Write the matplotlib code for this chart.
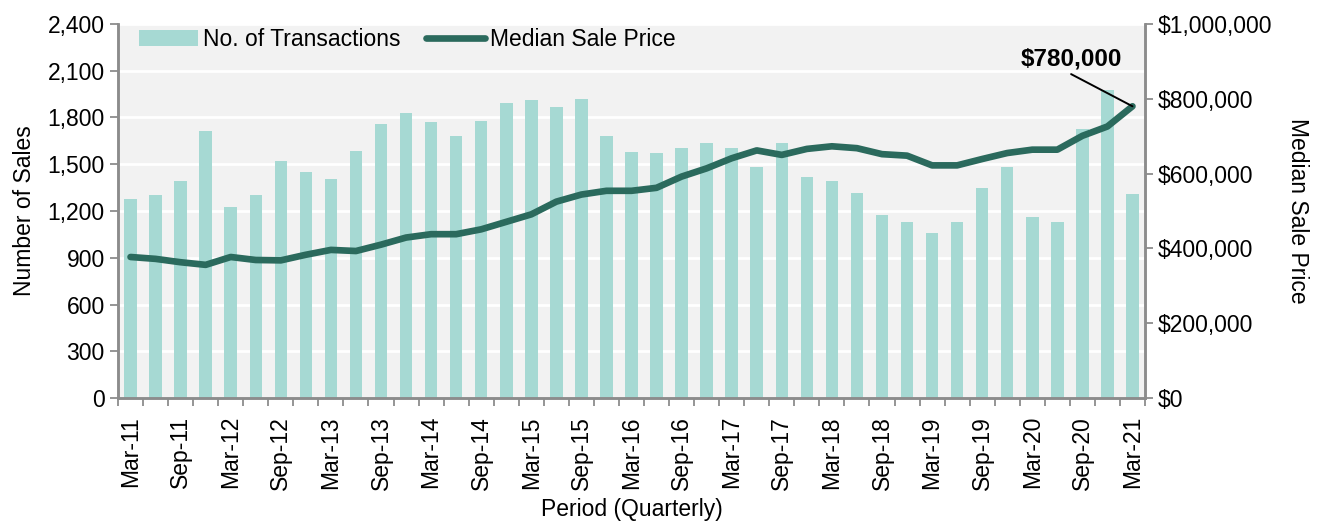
import numpy as np
import matplotlib.pyplot as plt
from matplotlib.ticker import FuncFormatter

plt.rcParams['font.family'] = ['Liberation Sans', 'DejaVu Sans']

# quarters Mar-11 .. Mar-21
quarters = []
for yy in range(11, 22):
    for m in ['Mar', 'Jun', 'Sep', 'Dec']:
        quarters.append(m + '-' + str(yy))
quarters = quarters[:41]

transactions = [1275, 1301, 1391, 1712, 1226, 1301, 1524, 1449, 1408, 1588,
                1761, 1828, 1770, 1680, 1779, 1894, 1911, 1869, 1918, 1680,
                1581, 1573, 1607, 1639, 1607, 1483, 1639, 1416, 1391, 1318,
                1176, 1129, 1061, 1129, 1350, 1483, 1161, 1129, 1729, 1976,
                1309]

median_price = [377000, 372000, 363000, 356000, 377000, 369000, 368000, 383000,
                396000, 393000, 410000, 429000, 438000, 438000, 451000, 471000,
                491000, 525000, 544000, 554000, 554000, 562000, 592000, 614000,
                641000, 662000, 650000, 666000, 673000, 668000, 652000, 648000,
                622000, 622000, 639000, 655000, 664000, 664000, 701000, 726000,
                780000]

bar_col = '#A6D9D3'
line_col = '#2B6A5D'
grey = '#8C8C8C'
fs = 16.5

fig = plt.figure(figsize=(13.22, 5.21), dpi=100)
ax = fig.add_axes([118/1322, 123/521, 1027/1322, 374/521])
ax2 = ax.twinx()

x = np.arange(len(quarters))
ax.set_facecolor('#F2F2F2')
ax.bar(x, transactions, width=0.5, color=bar_col, label='No. of Transactions', zorder=2)
ax2.plot(x, median_price, color=line_col, lw=4.8, solid_capstyle='round',
         solid_joinstyle='round', label='Median Sale Price', zorder=3)

ax.set_xlim(-0.5, len(quarters) - 0.5)
ax.set_ylim(0, 2400)
ax.set_yticks(np.arange(0, 2401, 300))
ax.yaxis.set_major_formatter(FuncFormatter(lambda v, p: f'{int(v):,}'))
ax.grid(axis='y', color='white', lw=2, zorder=1)
ax.set_axisbelow(True)

ax2.set_ylim(0, 1000000)
ax2.set_yticks(np.arange(0, 1000001, 200000))
ax2.yaxis.set_major_formatter(FuncFormatter(lambda v, p: f'${int(v):,}'))

# ticks between categories, labels every 2 quarters
ax.set_xticks(np.arange(-0.5, len(quarters), 1), minor=True)
ax.set_xticks(x[::2])
ax.set_xticklabels(quarters[::2], rotation=90)
ax.tick_params(axis='x', which='major', length=0, pad=13)
ax.tick_params(axis='x', which='minor', length=6, color=grey, width=1.3)
ax.tick_params(axis='y', length=6, color=grey, width=1.3, labelsize=fs)
ax.tick_params(axis='x', labelsize=fs)
ax2.tick_params(axis='y', length=6, color=grey, width=1.3, labelsize=fs)

for a in (ax, ax2):
    a.spines['top'].set_visible(False)
    for s in ['left', 'right', 'bottom']:
        a.spines[s].set_color(grey)
        a.spines[s].set_linewidth(1.8)

ax.set_ylabel('Number of Sales', fontsize=fs, labelpad=8)
ax2.set_ylabel('Median Sale Price', fontsize=fs, rotation=270, labelpad=26)
ax.set_xlabel('Period (Quarterly)', fontsize=fs, labelpad=6)

# annotation for last value
ax2.annotate('', xy=(x[-1], median_price[-1]), xytext=(x[-1] - 2.45, 866000),
             arrowprops=dict(arrowstyle='-', color='black', lw=1.4,
                             shrinkA=0, shrinkB=0))
ax2.text(x[-1] - 2.45, 906000, f'${median_price[-1]:,}', fontsize=17.5,
         fontweight='bold', ha='center', va='center')

h1, l1 = ax.get_legend_handles_labels()
h2, l2 = ax2.get_legend_handles_labels()
ax2.legend(h1 + h2, l1 + l2, loc='upper left', ncol=2, frameon=False,
           fontsize=fs, bbox_to_anchor=(0.0, 1.045), handlelength=2.6,
           handletextpad=0.2, columnspacing=1.1)

fig.savefig('out.png', dpi=100)
